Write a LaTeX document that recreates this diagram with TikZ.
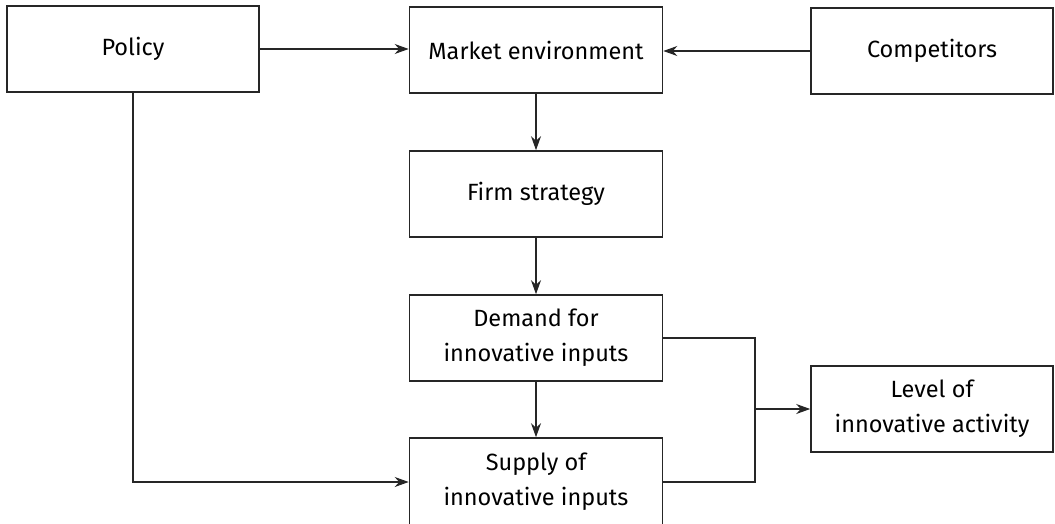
\documentclass[tikz,border=0pt]{standalone}
\usepackage{fontspec}
\setmainfont{Fira Sans}
\usetikzlibrary{arrows.meta}
\begin{document}
\begin{tikzpicture}[x=1pt,y=-1pt,
  box/.style={draw=black!85, line width=1.6pt, fill=white, align=center,
    inner sep=0pt, minimum height=86pt, font=\fontsize{23.5}{35}\selectfont},
  midbox/.style={box, minimum width=253pt},
  sidebox/.style={box, minimum width=242pt},
  conn/.style={draw=black!85, line width=1.6pt},
  arr/.style={conn, -{Stealth[length=14pt,width=10pt,inset=4.5pt]}}]
\useasboundingbox (0,0) rectangle (1055,524);

% boxes
\node[box, minimum width=252pt] (policy) at (133,49) {Policy};
\node[midbox] (market) at (536,50) {Market environment};
\node[sidebox] (comp) at (932,51) {Competitors};
\node[midbox] (firm) at (536,194) {Firm strategy};
\node[midbox] (demand) at (536,338) {Demand for\\innovative inputs};
\node[midbox, minimum height=88pt] (supply) at (536,482) {Supply of\\innovative inputs};
\node[sidebox] (level) at (932,409) {Level of\\innovative activity};

% influences on the market
\draw[arr] (policy.east) -- (policy.east -| market.west);
\draw[arr] (comp.west) -- (comp.west -| market.east);

% main chain
\draw[arr] (market) -- (firm);
\draw[arr] (firm) -- (demand);
\draw[arr] (demand) -- (supply);

% policy acting on supply
\draw[arr] (policy.south) |- (supply.west);

% demand and supply together set the level of activity
\coordinate (j) at (755,409);
\draw[conn] (demand.east) -- (demand.east -| j) -- (supply.east -| j) -- (supply.east);
\draw[arr] (j) -- (level.west);
\end{tikzpicture}
\end{document}
